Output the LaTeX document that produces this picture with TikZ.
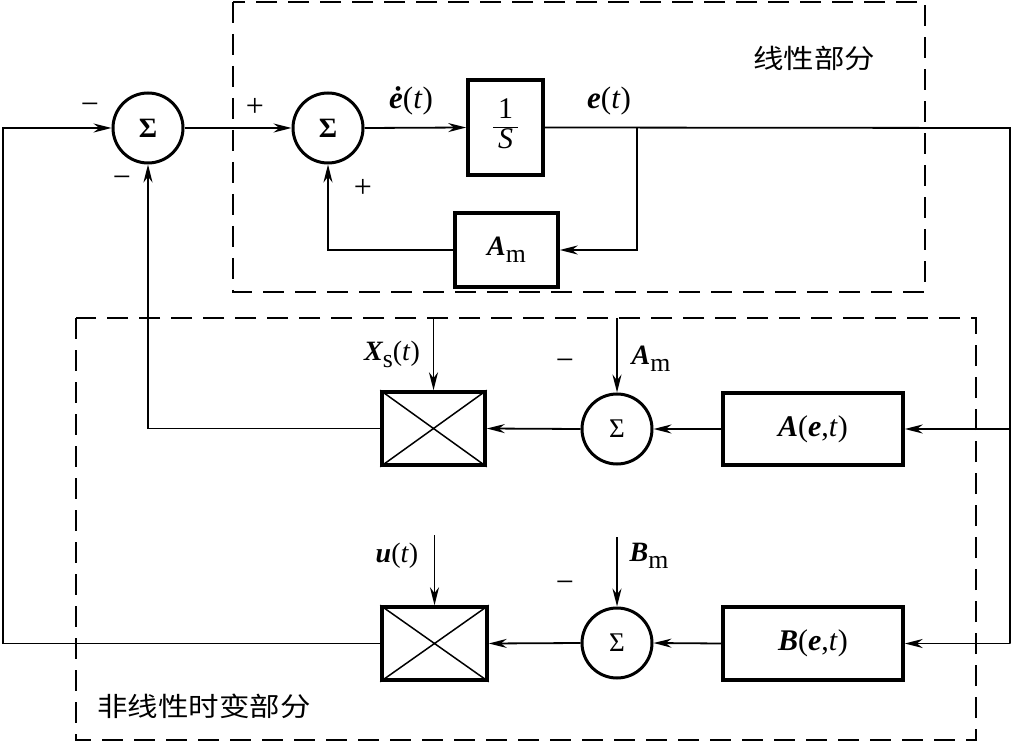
\documentclass[tikz,border=0pt]{standalone}
\usepackage{amsmath}
\usepackage{fontspec}
\setmainfont{Liberation Serif}
\newfontfamily\cjk{Noto Sans CJK SC}[FakeStretch=1.15]
\usetikzlibrary{arrows.meta}
\newcommand{\bivar}[1]{{\bfseries\itshape #1}}
\newcommand{\lsub}[1]{\raisebox{-0.25em}{\scalebox{0.92}{#1}}}
\tikzset{sig/.style={-{Stealth[length=18pt,width=9pt]},line width=1.8pt},
         wire/.style={line width=1.8pt},
         blk/.style={draw,line width=3.5pt,inner sep=0pt},
         sumc/.style={draw,circle,line width=3pt,minimum size=70pt,inner sep=0pt,
                      font=\fontsize{28}{28}\selectfont},
         mult/.style={blk,minimum width=103pt,minimum height=73pt},
         region/.style={line width=1.8pt,dash pattern=on 21pt off 11pt},
         lbl/.style={inner sep=0pt,font=\fontsize{28}{32}\selectfont},
         sgn/.style={inner sep=0pt,font=\fontsize{32}{32}\selectfont},
         zh/.style={inner sep=0pt,font=\cjk\fontsize{26.5}{30}\selectfont}}

\begin{document}
\begin{tikzpicture}[x=1pt,y=-1pt]
\useasboundingbox (0,0) rectangle (1012,743);
% dashed regions
\draw[region] (233,2) rectangle (925,292);
\draw[region] (76,318) rectangle (976,740);
\node[zh] at (814,58) {线性部分};
\node[zh] at (204,706) {非线性时变部分};
% linear part
\node[sumc] (s1) at (148,128) {\textbf{Σ}};
\node[sumc] (s2) at (328,128) {\textbf{Σ}};
\node[blk,minimum width=75pt,minimum height=95pt,
      font=\fontsize{30}{32}\selectfont] (integ) at (505.5,127.5)
      {{\setlength\arrayrulewidth{1.6pt}\renewcommand\arraystretch{0.9}%
        \begin{tabular}{@{\,}c@{\,}}1\\\hline\textit{S}\end{tabular}}};
\node[blk,minimum width=103pt,minimum height=74pt,
      font=\fontsize{28}{32}\selectfont] (am) at (506.5,250) {\bivar{A}\lsub{m}};
% nonlinear time-varying part
\node[mult] (m1) at (433.5,428.5) {};
\node[sumc,font=\fontsize{27}{28}\selectfont] (s3) at (617,429) {Σ};
\node[blk,minimum width=180pt,minimum height=72pt,
      font=\fontsize{30}{32}\selectfont] (fa) at (813,429)
      {\bivar{A}(\bivar{e},\textit{t})};
\node[mult,minimum width=105pt] (m2) at (434.5,643.5) {};
\node[sumc,font=\fontsize{27}{28}\selectfont] (s4) at (617,643) {Σ};
\node[blk,minimum width=180pt,minimum height=73pt,
      font=\fontsize{30}{32}\selectfont] (fb) at (813,643.5)
      {\bivar{B}(\bivar{e},\textit{t})};
\foreach \m in {m1,m2}
  \draw[line width=1.5pt] (\m.north west) -- (\m.south east)
                          (\m.north east) -- (\m.south west);
% corners and free ends
\coordinate (br) at (637,128);
\coordinate (rx) at (1010,128);
\coordinate (rb) at (1010,643.5);
\coordinate (lb) at (3,643.5);
\coordinate (xsin) at (433.5,318);
\coordinate (amin) at (617,318);
\coordinate (uin) at (434.5,535);
\coordinate (bmin) at (617,537);
% connectors
\draw[sig] (s1.east) -- (s2.west);
\draw[sig] (s2.east) -- (integ.west);
\draw[wire] (integ.east) -- (rx) -- (rb);
\draw[sig] (br) |- (am.east);
\draw[sig] (am.west) -| (s2.south);
\draw[sig] (rx |- fa.east) -- (fa.east);
\draw[sig] (rb) -- (fb.east);
\draw[sig] (fa.west) -- (s3.east);
\draw[sig] (s3.west) -- (m1.east);
\draw[sig] (m1.west) -| (s1.south);
\draw[sig] (fb.west) -- (s4.east);
\draw[sig] (s4.west) -- (m2.east);
\draw[sig] (m2.west) -- (lb) |- (s1.west);
\draw[sig] (xsin) -- (m1.north);
\draw[sig] (amin) -- (s3.north);
\draw[sig] (uin) -- (m2.north);
\draw[sig] (bmin) -- (s4.north);
% signal labels
\node[lbl,font=\fontsize{31}{32}\selectfont] at (411,101) {\bivar{\.e}(\textit{t})};
\node[lbl,font=\fontsize{31}{32}\selectfont] at (609,101) {\bivar{e}(\textit{t})};
\node[lbl] at (392,354) {\bivar{X}\lsub{s}(\textit{t})};
\node[lbl] at (651,359) {\bivar{A}\lsub{m}};
\node[lbl] at (397,556) {\bivar{u}(\textit{t})};
\node[lbl] at (649,556) {\bivar{B}\lsub{m}};
% signs
\node[sgn] at (90,109) {−};
\node[sgn] at (255,107) {+};
\node[sgn] at (122,182) {−};
\node[sgn] at (363,188) {+};
\node[sgn] at (565,365) {−};
\node[sgn] at (565,587) {−};
\end{tikzpicture}
\end{document}
